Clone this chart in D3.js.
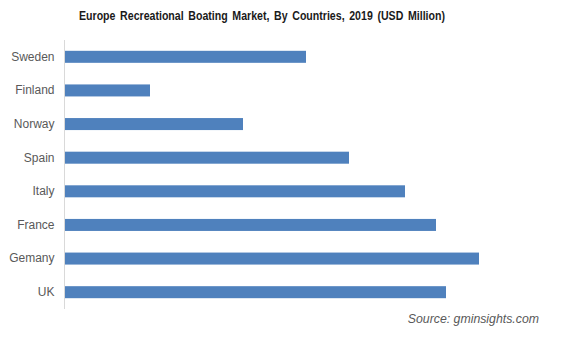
<!DOCTYPE html>
<html>
<head>
<meta charset="utf-8">
<script src="https://cdn.jsdelivr.net/npm/d3@7"></script>
<style>
  html, body { margin: 0; padding: 0; background: #fff; }
  svg { display: block; }
</style>
</head>
<body>
<svg id="chart" width="566" height="341"></svg>
<script>
// Countries, top to bottom
const countries = ["Sweden", "Finland", "Norway", "Spain", "Italy", "France", "Gemany", "UK"];
// Market size, 2019 (USD Million)
const values = [241, 85, 178, 284, 340, 371, 414, 381];

const svg = d3.select("#chart");
const left = 65, plotTop = 40, plotBottom = 309;

const y = d3.scaleBand()
  .domain(countries)
  .range([plotTop, plotBottom])
  .paddingInner(0.643)
  .paddingOuter(0.3215);

const x = d3.scaleLinear()
  .domain([0, 480])
  .range([left, left + 480]);

// Title, condensed to a narrow face
svg.append("text")
  .attr("x", 79)
  .attr("y", 20)
  .attr("font-family", "'Liberation Sans Narrow', 'Arial Narrow', 'Liberation Sans', Arial, sans-serif")
  .attr("font-weight", "bold")
  .attr("font-size", 12.5)
  .attr("word-spacing", 2)
  .attr("textLength", 366)
  .attr("lengthAdjust", "spacingAndGlyphs")
  .attr("fill", "#1a1a1a")
  .text("Europe Recreational Boating Market, By Countries, 2019 (USD Million)");

// Bars
svg.append("g")
  .selectAll("rect")
  .data(countries)
  .join("rect")
  .attr("x", x(0))
  .attr("y", d => y(d))
  .attr("width", (d, i) => x(values[i]) - x(0))
  .attr("height", y.bandwidth())
  .attr("fill", "#4f81bd");

// Category axis
const axis = svg.append("g")
  .attr("transform", `translate(${left - 0.5},0)`)
  .call(d3.axisLeft(y).tickSize(0).tickPadding(10));
axis.select(".domain").attr("stroke", "#d9d9d9").attr("d", `M0,${plotTop}V${plotBottom}`);
axis.selectAll("text")
  .attr("font-family", "'Liberation Sans', Arial, sans-serif")
  .attr("font-size", 12)
  .attr("fill", "#595959");

// Source note
svg.append("text")
  .attr("x", 539)
  .attr("y", 323)
  .attr("text-anchor", "end")
  .attr("font-family", "'Liberation Sans', Arial, sans-serif")
  .attr("font-style", "italic")
  .attr("font-size", 12.3)
  .attr("fill", "#595959")
  .text("Source: gminsights.com");
</script>
</body>
</html>
